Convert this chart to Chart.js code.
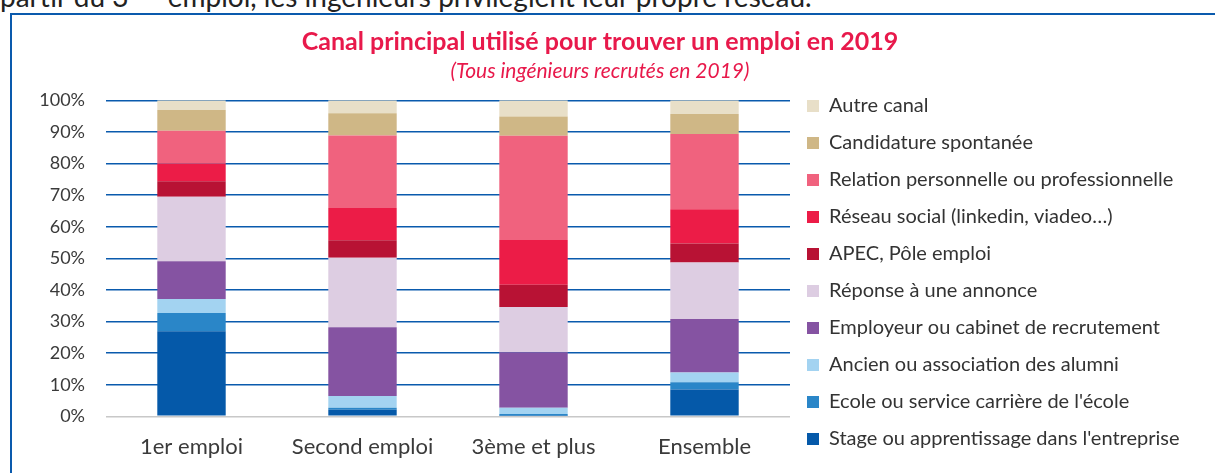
<!DOCTYPE html>
<html lang="fr">
<head>
<meta charset="utf-8">
<title>Canal principal utilisé pour trouver un emploi en 2019</title>
<script src="https://cdn.jsdelivr.net/npm/chart.js@4.4.1/dist/chart.umd.min.js"></script>
<style>
  html, body { margin: 0; padding: 0; background: #fff; overflow: hidden; }
  body { width: 1215px; height: 473px; position: relative; font-family: Lato, sans-serif; }
  #intro { position: absolute; left: 0; top: -23px; font-size: 28px; line-height: 28px; color: #222; white-space: nowrap; }
  #intro sup { font-size: 17px; }
  #frame { position: absolute; left: 10px; top: 13px; width: 1300px; height: 600px;
           border-top: 2px solid #0a5aad; border-left: 2px solid #0a5aad; }
  #chart { position: absolute; left: 0; top: 0; }
</style>
</head>
<body>
<div id="intro">partir du 3<sup>ème</sup> emploi, les ingénieurs privilégient leur propre réseau.</div>
<div id="frame"></div>
<canvas id="chart" width="1215" height="473"></canvas>
<script>
// data (share of hires, %)
const categories = ['1er emploi', 'Second emploi', '3ème et plus', 'Ensemble'];
const stage       = [26.9,  2.1,  0.2,  8.5];
const ecole       = [ 5.8,  0.6,  0.5,  2.3];
const ancien      = [ 4.4,  3.7,  2.0,  3.1];
const employeur   = [12.0, 21.8, 17.6, 16.9];
const reponse     = [20.4, 22.0, 14.3, 17.9];
const apec        = [ 4.9,  5.5,  7.0,  6.0];
const reseau      = [ 5.5, 10.2, 14.2, 10.8];
const relation    = [10.5, 23.0, 33.0, 23.8];
const candidature = [ 6.5,  7.0,  6.1,  6.4];
const autre       = [ 3.1,  4.1,  5.1,  4.3];
const yTicks = [0, 10, 20, 30, 40, 50, 60, 70, 80, 90, 100];

const series = [
  { label: 'Stage ou apprentissage dans l\'entreprise', data: stage,       color: '#0559a9' },
  { label: 'Ecole ou service carrière de l\'école',     data: ecole,       color: '#2a86c8' },
  { label: 'Ancien ou association des alumni',          data: ancien,      color: '#a3d3f1' },
  { label: 'Employeur ou cabinet de recrutement',       data: employeur,   color: '#8553a2' },
  { label: 'Réponse à une annonce',                     data: reponse,     color: '#ddcde2' },
  { label: 'APEC, Pôle emploi',                         data: apec,        color: '#b81234' },
  { label: 'Réseau social (linkedin, viadeo…)',         data: reseau,      color: '#ec1c47' },
  { label: 'Relation personnelle ou professionnelle',   data: relation,    color: '#f0627e' },
  { label: 'Candidature spontanée',                     data: candidature, color: '#cfb786' },
  { label: 'Autre canal',                               data: autre,       color: '#e8dfc8' }
];

const W = 1215, H = 473;
const legendSize = 20, legendPad = 17, legendBox = 12;

function draw() {
  // plot from x=106 to 790, 0% at y=416, 100% at y=100; title centred on x=600
  const m = document.createElement('canvas').getContext('2d');
  m.font = legendSize + 'px Lato';
  const maxText = Math.max(...series.map(s => m.measureText(s.label).width));
  const legendW = legendPad + legendBox + legendSize / 2 + maxText + 10;
  const padRight = W - 790 - legendW;
  const padLeft = 2 * 600 - (W - padRight);
  const padBottom = 7;

  new Chart(document.getElementById('chart'), {
    type: 'bar',
    data: {
      labels: categories,
      datasets: series.map(s => ({
        label: s.label,
        data: s.data,
        backgroundColor: s.color,
        borderWidth: 0,
        barPercentage: 0.4,
        categoryPercentage: 1.0
      }))
    },
    options: {
      responsive: false,
      animation: false,
      layout: { padding: { left: padLeft, right: padRight, top: 0, bottom: padBottom } },
      scales: {
        x: {
          stacked: true,
          grid: { display: false, drawTicks: false },
          border: { display: false },
          ticks: { color: '#3a3a3a', font: { family: 'Lato', size: 22 }, padding: 17.5 },
          afterFit: s => { s.height = H - padBottom - 416.3; }
        },
        y: {
          stacked: true,
          min: 0, max: 100,
          afterBuildTicks: s => { s.ticks = yTicks.map(v => ({ value: v })); },
          grid: {
            drawTicks: false,
            color: c => c.tick && c.tick.value === 0 ? '#c8c8c8' : '#0a5aad',
            lineWidth: 1.5
          },
          border: { display: false },
          ticks: { color: '#3a3a3a', font: { family: 'Lato', size: 18 }, padding: 21, callback: v => v + '%' },
          afterFit: s => { s.width = 106 - padLeft; }
        }
      },
      plugins: {
        title: {
          display: true,
          text: 'Canal principal utilisé pour trouver un emploi en 2019',
          color: '#e8194b',
          font: { family: 'Lato', size: 25, weight: 'bold' },
          padding: { top: 27, bottom: 0 }
        },
        subtitle: {
          display: true,
          text: '(Tous ingénieurs recrutés en 2019)',
          color: '#e8194b',
          font: { family: 'Lato', size: 21, style: 'italic' },
          padding: { top: 1.4, bottom: 16.7 }
        },
        legend: {
          position: 'right',
          align: 'end',
          reverse: true,
          maxWidth: 600,
          labels: {
            boxWidth: legendBox, boxHeight: legendBox, padding: legendPad,
            color: '#333', font: { family: 'Lato', size: legendSize }
          }
        },
        tooltip: { enabled: false }
      }
    }
  });
}

Promise.all([
  document.fonts.load('20px Lato'),
  document.fonts.load('bold 25px Lato'),
  document.fonts.load('italic 21px Lato')
]).catch(() => {}).then(draw);
</script>
</body>
</html>
